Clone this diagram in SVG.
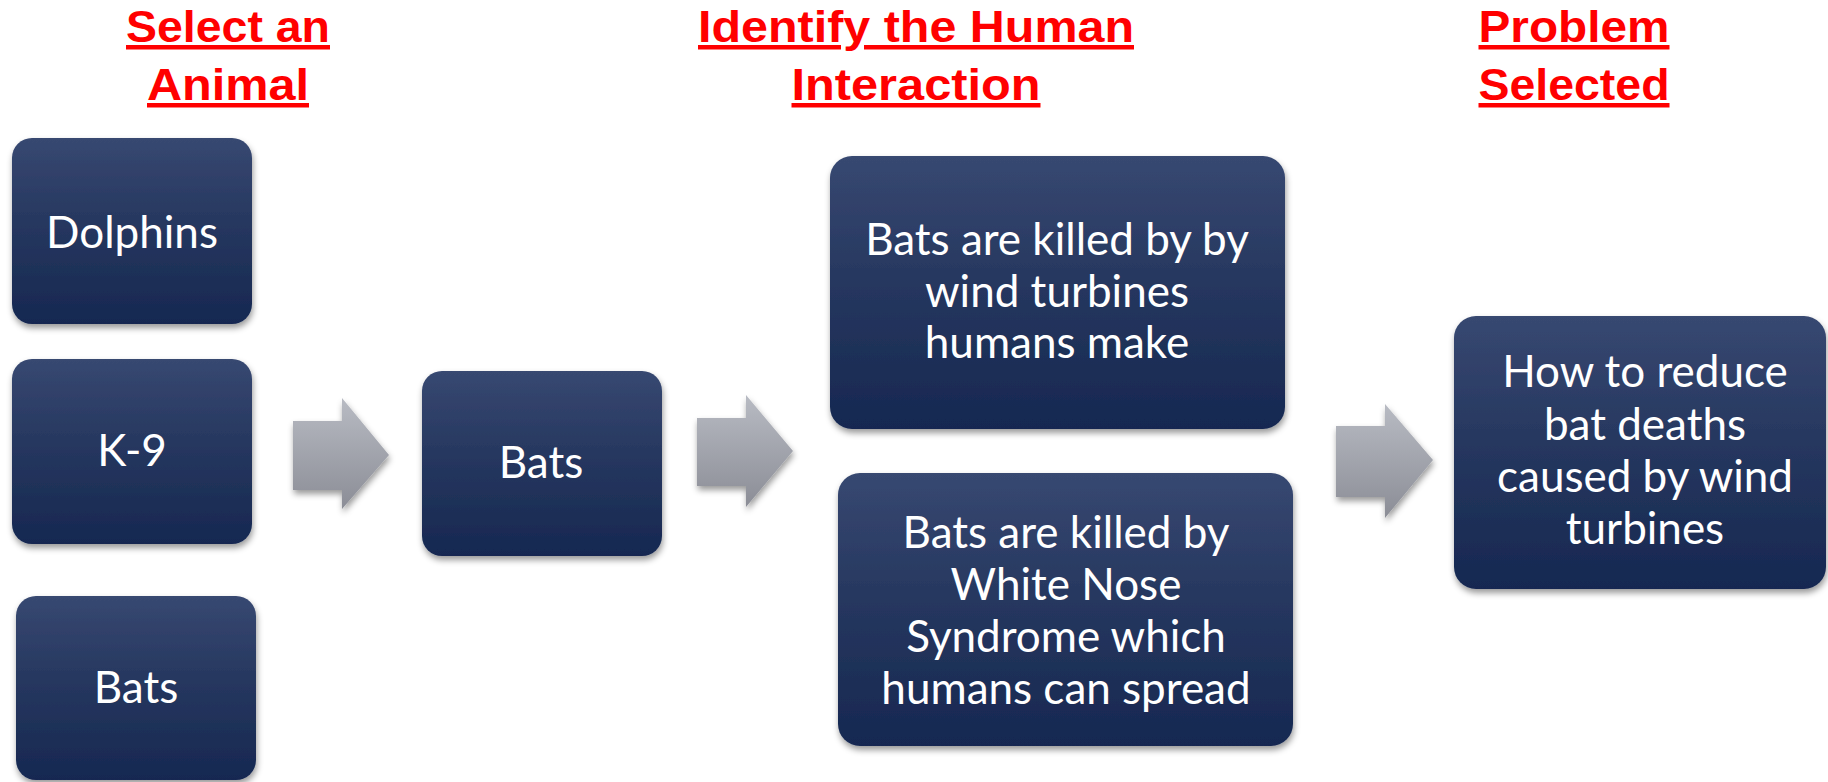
<svg xmlns="http://www.w3.org/2000/svg" width="1828" height="782" viewBox="0 0 1828 782">
<defs>
<linearGradient id="boxGrad" x1="0" y1="0" x2="0" y2="1">
<stop offset="0" stop-color="#374871"/>
<stop offset="0.5" stop-color="#25365e"/>
<stop offset="1" stop-color="#162851"/>
</linearGradient>
<linearGradient id="arrGrad" x1="0" y1="0" x2="0" y2="1">
<stop offset="0" stop-color="#b8bbc3"/>
<stop offset="1" stop-color="#8b8d96"/>
</linearGradient>
<filter id="shadow" x="-10%" y="-10%" width="120%" height="125%">
<feDropShadow dx="1" dy="4" stdDeviation="3" flood-color="#000" flood-opacity="0.4"/>
</filter>
</defs>
<style>
.box{fill:url(#boxGrad);filter:url(#shadow);}
.arr{fill:url(#arrGrad);filter:url(#shadow);}
.t{font-family:Lato,"Open Sans","DejaVu Sans",sans-serif;font-size:44px;fill:#ffffff;text-anchor:middle;}
.h{font-family:"Liberation Sans",Arial,sans-serif;font-weight:bold;font-size:45px;fill:#ff0000;text-anchor:middle;text-decoration:underline;}
</style>
<g id="titles">
<text class="h" x="228" y="42" textLength="204" lengthAdjust="spacingAndGlyphs">Select an</text>
<text class="h" x="228" y="100" textLength="162" lengthAdjust="spacingAndGlyphs">Animal</text>
<text class="h" x="916" y="42" textLength="436" lengthAdjust="spacingAndGlyphs">Identify the Human</text>
<text class="h" x="916" y="100" textLength="249" lengthAdjust="spacingAndGlyphs">Interaction</text>
<text class="h" x="1574" y="42" textLength="191" lengthAdjust="spacingAndGlyphs">Problem</text>
<text class="h" x="1574" y="100" textLength="191" lengthAdjust="spacingAndGlyphs">Selected</text>
</g>
<g id="connectors">
<path class="arr" d="M293,421 H342 V398 L389,455 L342,509 V490 H293 Z"/>
<path class="arr" d="M697,418 H746 V395 L793,451 L746,507 V486 H697 Z"/>
<path class="arr" d="M1336,426 H1385 V404 L1433,460 L1385,518 V497 H1336 Z"/>
</g>
<g id="node-dolphins">
<rect class="box" x="12" y="138" width="240" height="186" rx="20"/>
<text class="t" x="132" y="248">Dolphins</text>
</g>
<g id="node-k9">
<rect class="box" x="12" y="359" width="240" height="185" rx="20"/>
<text class="t" x="132" y="466">K-9</text>
</g>
<g id="node-bats-left">
<rect class="box" x="16" y="596" width="240" height="184" rx="20"/>
<text class="t" x="136" y="703">Bats</text>
</g>
<g id="node-bats-mid">
<rect class="box" x="422" y="371" width="240" height="185" rx="20"/>
<text class="t" x="541" y="478">Bats</text>
</g>
<g id="node-wind">
<rect class="box" x="830" y="156" width="455" height="273" rx="22"/>
<text class="t" x="1057" y="255">Bats are killed by by</text>
<text class="t" x="1057" y="307">wind turbines</text>
<text class="t" x="1057" y="358">humans make</text>
</g>
<g id="node-wns">
<rect class="box" x="838" y="473" width="455" height="273" rx="22"/>
<text class="t" x="1066" y="548">Bats are killed by</text>
<text class="t" x="1066" y="600">White Nose</text>
<text class="t" x="1066" y="652">Syndrome which</text>
<text class="t" x="1066" y="704">humans can spread</text>
</g>
<g id="node-problem">
<rect class="box" x="1454" y="316" width="372" height="273" rx="22"/>
<text class="t" x="1645" y="387">How to reduce</text>
<text class="t" x="1645" y="440">bat deaths</text>
<text class="t" x="1645" y="492">caused by wind</text>
<text class="t" x="1645" y="544">turbines</text>
</g>
</svg>
